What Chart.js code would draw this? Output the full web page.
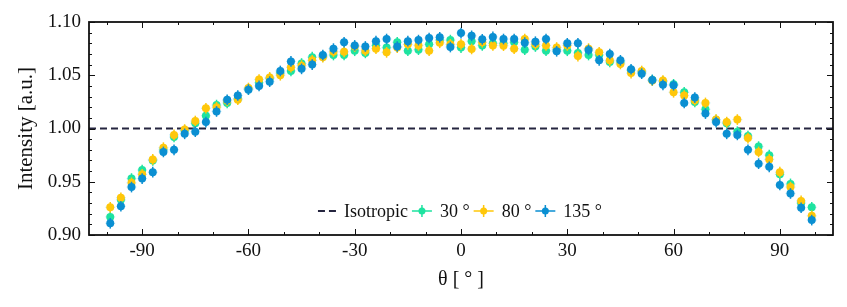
<!DOCTYPE html>
<html>
<head>
<meta charset="utf-8">
<script src="https://cdn.jsdelivr.net/npm/chart.js@4/dist/chart.umd.min.js"></script>
<style>
  html, body { margin: 0; padding: 0; background: #fff; }
  #wrap { width: 847px; height: 307px; }
</style>
</head>
<body>
<div id="wrap"><canvas id="chart" width="847" height="307"></canvas></div>
<script>
// -------------------- DATA --------------------
const theta = [-99, -96, -93, -90, -87, -84, -81, -78, -75, -72, -69, -66, -63, -60, -57, -54, -51, -48, -45, -42,
  -39, -36, -33, -30, -27, -24, -21, -18, -15, -12, -9, -6, -3, 0, 3, 6, 9, 12, 15, 18, 21, 24, 27, 30, 33, 36,
  39, 42, 45, 48, 51, 54, 57, 60, 63, 66, 69, 72, 75, 78, 81, 84, 87, 90, 93, 96, 99];

const int30 = [0.917, 0.933, 0.953, 0.961, 0.970, 0.980, 0.992, 0.998, 1.005, 1.012, 1.022, 1.024, 1.028, 1.037,
  1.043, 1.047, 1.052, 1.054, 1.061, 1.067, 1.068, 1.069, 1.069, 1.073, 1.071, 1.078, 1.076, 1.081, 1.073, 1.074,
  1.079, 1.083, 1.083, 1.076, 1.082, 1.078, 1.080, 1.080, 1.081, 1.074, 1.077, 1.073, 1.074, 1.073, 1.071, 1.069,
  1.069, 1.0625, 1.0625, 1.0545, 1.053, 1.0455, 1.044, 1.0415, 1.034, 1.025, 1.018, 1.008, 1.005, 0.997, 0.993,
  0.983, 0.975, 0.957, 0.948, 0.930, 0.926];

const int80 = [0.926, 0.935, 0.949, 0.957, 0.971, 0.982, 0.994, 0.999, 1.007, 1.019, 1.020, 1.026, 1.027, 1.038,
  1.046, 1.048, 1.050, 1.0575, 1.059, 1.064, 1.067, 1.072, 1.072, 1.077, 1.073, 1.075, 1.0715, 1.076, 1.079, 1.078,
  1.073, 1.0805, 1.079, 1.079, 1.0747, 1.081, 1.078, 1.0778, 1.075, 1.084, 1.079, 1.078, 1.076, 1.078, 1.068, 1.075,
  1.0715, 1.064, 1.0606, 1.052, 1.054, 1.045, 1.045, 1.034, 1.031, 1.0265, 1.024, 1.0084, 1.006, 1.0084, 0.991,
  0.978, 0.971, 0.959, 0.945, 0.932, 0.918];

const int135 = [0.911, 0.927, 0.945, 0.953, 0.959, 0.978, 0.980, 0.995, 0.997, 1.006, 1.016, 1.027, 1.031, 1.0365,
  1.040, 1.044, 1.054, 1.063, 1.056, 1.060, 1.069, 1.075, 1.081, 1.078, 1.077, 1.082, 1.084, 1.077, 1.082, 1.083,
  1.085, 1.0856, 1.0765, 1.0896, 1.087, 1.0837, 1.086, 1.084, 1.084, 1.0806, 1.0815, 1.084, 1.0725, 1.080, 1.080,
  1.0737, 1.064, 1.070, 1.064, 1.0556, 1.0515, 1.0455, 1.041, 1.0406, 1.024, 1.029, 1.014, 1.006, 0.995, 0.994,
  0.980, 0.967, 0.964, 0.947, 0.939, 0.9256, 0.914];

const seriesLabels = ['30 °', '80 °', '135 °'];
const isoLevel = 1.0;
const yErr = 0.005;   // vertical error (a.u.)
const xErr = 1.4;     // horizontal error (deg)

const xRange = [-105, 105];
const yRange = [0.90, 1.10];
const xTicks = [-90, -60, -30, 0, 30, 60, 90];
const yTicks = [0.90, 0.95, 1.00, 1.05, 1.10];
const xMinorStep = 10;
const yMinorStep = 0.01;

// -------------------- STYLE --------------------
const colors = ['#1ee3a0', '#ffc70a', '#0a8fd2'];
const isoColor = '#25253f';
const serif = "'Liberation Serif', 'DejaVu Serif', serif";

const toPoints = arr => arr.map((v, i) => ({ x: theta[i], y: v }));

// error bars + frame + inner ticks + legend
const decor = {
  id: 'decor',
  beforeDatasetDraw(chart, args) {
    const ds = chart.data.datasets[args.index];
    if (!ds.errBars) return;
    const ctx = chart.ctx, xs = chart.scales.x, ys = chart.scales.y;
    ctx.save();
    ds.data.forEach(p => {
      const px = xs.getPixelForValue(p.x), py = ys.getPixelForValue(p.y);
      ctx.strokeStyle = 'rgba(150,220,240,0.55)';
      ctx.lineWidth = 1.2;
      ctx.beginPath();
      ctx.moveTo(xs.getPixelForValue(p.x - xErr), py);
      ctx.lineTo(xs.getPixelForValue(p.x + xErr), py);
      ctx.stroke();
      ctx.strokeStyle = ds.borderColor;
      ctx.lineWidth = 1.5;
      ctx.beginPath();
      ctx.moveTo(px, ys.getPixelForValue(p.y - yErr));
      ctx.lineTo(px, ys.getPixelForValue(p.y + yErr));
      ctx.stroke();
    });
    ctx.restore();
  },
  afterDraw(chart) {
    const ctx = chart.ctx, a = chart.chartArea, xs = chart.scales.x, ys = chart.scales.y;
    ctx.save();
    ctx.strokeStyle = '#111';
    // inward ticks, all four sides
    ctx.lineWidth = 1;
    const tick = (val, axis, len) => {
      if (axis === 'x') {
        const px = Math.round(xs.getPixelForValue(val)) + 0.5;
        ctx.beginPath();
        ctx.moveTo(px, a.bottom); ctx.lineTo(px, a.bottom - len);
        ctx.moveTo(px, a.top); ctx.lineTo(px, a.top + len);
        ctx.stroke();
      } else {
        const py = Math.round(ys.getPixelForValue(val)) + 0.5;
        ctx.beginPath();
        ctx.moveTo(a.left, py); ctx.lineTo(a.left + len, py);
        ctx.moveTo(a.right, py); ctx.lineTo(a.right - len, py);
        ctx.stroke();
      }
    };
    for (let v = Math.ceil(xRange[0] / xMinorStep) * xMinorStep; v <= xRange[1]; v += xMinorStep) tick(v, 'x', 3);
    xTicks.forEach(v => tick(v, 'x', 6));
    for (let k = 1; k < Math.round((yRange[1] - yRange[0]) / yMinorStep); k++) tick(yRange[0] + k * yMinorStep, 'y', 3);
    yTicks.forEach(v => tick(v, 'y', 6));
    ctx.lineWidth = 1.8;
    ctx.strokeRect(a.left, a.top, a.right - a.left, a.bottom - a.top);

    // legend (inside, bottom centre)
    ctx.font = '18px ' + serif;
    ctx.textBaseline = 'middle';
    const items = chart.data.datasets.slice().sort((p, q) => p.legendIndex - q.legendIndex);
    const handle = 20, gapH = 8, gapItem = 4;
    let total = 0;
    items.forEach(d => { total += handle + gapH + ctx.measureText(d.label).width + gapItem; });
    let x = (a.left + a.right) / 2 - total / 2;
    const y = a.bottom - 24;
    items.forEach(d => {
      if (d.errBars) {
        ctx.strokeStyle = d.borderColor;
        ctx.lineWidth = 1.5;
        ctx.beginPath();
        ctx.moveTo(x, y); ctx.lineTo(x + handle, y);
        ctx.moveTo(x + handle / 2, y - 6); ctx.lineTo(x + handle / 2, y + 6);
        ctx.stroke();
        ctx.fillStyle = d.backgroundColor;
        ctx.beginPath();
        ctx.arc(x + handle / 2, y, 3.5, 0, Math.PI * 2);
        ctx.fill();
      } else {
        ctx.strokeStyle = d.borderColor;
        ctx.lineWidth = 2;
        ctx.setLineDash([7, 4]);
        ctx.beginPath();
        ctx.moveTo(x + 2, y); ctx.lineTo(x + handle, y);
        ctx.stroke();
        ctx.setLineDash([]);
      }
      ctx.fillStyle = '#111';
      ctx.fillText(d.label, x + handle + gapH, y + 1);
      x += handle + gapH + ctx.measureText(d.label).width + gapItem;
    });
    ctx.restore();
  }
};

const scatterSet = (label, data, color, order, legendIndex) => ({
  type: 'scatter',
  label: label,
  data: toPoints(data),
  borderColor: color,
  backgroundColor: color,
  pointRadius: 4,
  pointBorderWidth: 0,
  errBars: true,
  order: order,
  legendIndex: legendIndex
});

new Chart(document.getElementById('chart'), {
  type: 'scatter',
  data: {
    datasets: [
      {
        type: 'line',
        label: 'Isotropic',
        data: [{ x: xRange[0], y: isoLevel }, { x: xRange[1], y: isoLevel }],
        borderColor: isoColor,
        borderWidth: 2,
        borderDash: [7, 4],
        pointRadius: 0,
        order: 3,
        legendIndex: 0
      },
      scatterSet(seriesLabels[0], int30, colors[0], 2, 1),
      scatterSet(seriesLabels[1], int80, colors[1], 1, 2),
      scatterSet(seriesLabels[2], int135, colors[2], 0, 3)
    ]
  },
  options: {
    responsive: false,
    animation: false,
    layout: { padding: { top: 22, right: 14, left: 0, bottom: 0 } },
    plugins: { legend: { display: false }, tooltip: { enabled: false } },
    scales: {
      x: {
        type: 'linear',
        min: xRange[0], max: xRange[1],
        grid: { display: false, drawTicks: false },
        border: { display: false },
        afterBuildTicks: s => { s.ticks = xTicks.map(v => ({ value: v })); },
        afterFit: s => { s.height = 72; },
        ticks: { color: '#111', font: { family: serif, size: 19 }, padding: 5, maxRotation: 0 },
        title: { display: true, text: 'θ [ ° ]', color: '#111', font: { family: serif, size: 20 }, padding: { top: 0, bottom: 15 } }
      },
      y: {
        min: yRange[0], max: yRange[1],
        grid: { display: false, drawTicks: false },
        border: { display: false },
        afterBuildTicks: s => { s.ticks = yTicks.map(v => ({ value: v })); },
        afterFit: s => { s.width = 89; },
        ticks: { color: '#111', font: { family: serif, size: 19 }, padding: 8, callback: v => v.toFixed(2) },
        title: { display: true, text: 'Intensity [a.u.]', color: '#111', font: { family: serif, size: 21 }, padding: 14 }
      }
    }
  },
  plugins: [decor]
});
</script>
</body>
</html>
